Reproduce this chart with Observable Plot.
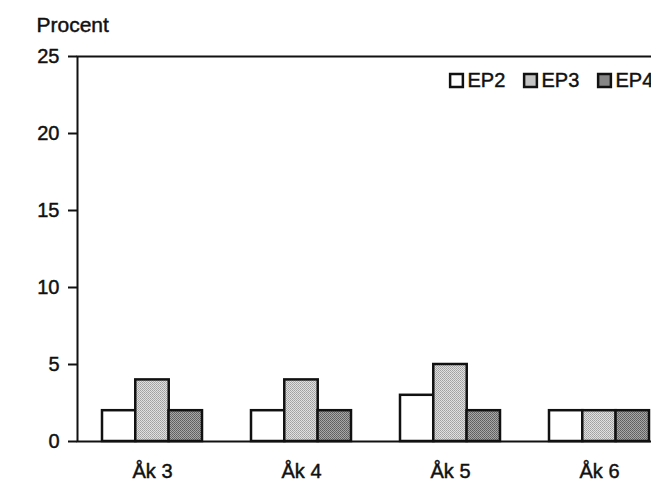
<!DOCTYPE html>
<html>
<head>
<meta charset="utf-8">
<script src="https://cdn.jsdelivr.net/npm/d3@7"></script>
<script src="https://cdn.jsdelivr.net/npm/@observablehq/plot@0.6"></script>
<style>
  html, body { margin: 0; padding: 0; background: #fff; }
  #chart svg text { stroke: #111; stroke-width: 0.45px; }
</style>
</head>
<body>
<div id="chart"></div>
<script>
const categories = ["Åk 3", "Åk 4", "Åk 5", "Åk 6"];
const series = ["EP2", "EP3", "EP4"];
const ep2 = [2, 2, 3, 2];
const ep3 = [4, 4, 5, 2];
const ep4 = [2, 2, 2, 2];
const yTicks = [0, 5, 10, 15, 20, 25];
const yLabel = "Procent";

const values = {EP2: ep2, EP3: ep3, EP4: ep4};

const fills = ["#ffffff", "url(#pat-ep3)", "url(#pat-ep4)"];
const ink = "#111";
const font = "'Liberation Sans', Arial, Helvetica, sans-serif";

const W = 651, H = 483;
const mL = 77, mR = -22, mT = 56, mB = 42;
const padIn = 0.33, padOut = 0.165;
const bw = d3.scaleBand(categories, [mL, W - mR]).paddingInner(padIn).paddingOuter(padOut).bandwidth();
const sub = bw / series.length;

const barMarks = series.map((s, i) => Plot.barY(
  categories.map((c, j) => ({cat: c, s, v: values[s][j]})),
  {x: "cat", y: "v", fill: fills[i], stroke: ink, strokeWidth: 2.5,
   insetLeft: i * sub, insetRight: (series.length - 1 - i) * sub}
));

const legendMarks = series.flatMap((s, i) => [
  Plot.dot([s], {frameAnchor: "top-left", dx: 379 + 74 * i, dy: 24,
    symbol: "square", r: 7.2, fill: fills[i], stroke: ink, strokeWidth: 2.5}),
  Plot.text([s], {frameAnchor: "top-left", dx: 390 + 74 * i, dy: 24,
    text: d => d, textAnchor: "start", lineAnchor: "middle", fill: ink, fontSize: 20})
]);

const chart = Plot.plot({
  width: W,
  height: H,
  marginTop: mT,
  marginBottom: mB,
  marginLeft: mL,
  marginRight: mR,
  style: {fontFamily: font, fontSize: "20px", color: ink, background: "#fff"},
  x: {domain: categories, paddingInner: padIn, paddingOuter: padOut, label: null, axis: null},
  y: {domain: [0, 25], axis: null},
  marks: [
    ...barMarks,
    Plot.frame({stroke: ink, strokeWidth: 2}),
    Plot.axisY({ticks: yTicks, tickSize: 9, tickPadding: 9, tickFormat: d => d,
      label: null, stroke: ink, strokeWidth: 2, fontSize: 20}),
    Plot.axisX({tickSize: 0, tickPadding: 22, label: null, fontSize: 20}),
    Plot.text([yLabel], {frameAnchor: "top-left", dx: -41, dy: -25,
      text: d => d, textAnchor: "start", lineAnchor: "bottom", fontSize: 21, fill: ink}),
    ...legendMarks
  ]
});

chart.insertAdjacentHTML("afterbegin", `
<defs>
  <pattern id="pat-ep3" width="2" height="2" patternUnits="userSpaceOnUse">
    <rect width="2" height="2" fill="#e0e0e0"/>
    <rect width="1" height="1" fill="#a0a0a0"/>
    <rect x="1" y="1" width="1" height="1" fill="#acacac"/>
  </pattern>
  <pattern id="pat-ep4" width="2" height="2" patternUnits="userSpaceOnUse">
    <rect width="2" height="2" fill="#a8a8a8"/>
    <rect width="1" height="1" fill="#5e5e5e"/>
    <rect x="1" y="1" width="1" height="1" fill="#686868"/>
  </pattern>
</defs>`);

document.getElementById("chart").appendChild(chart);
</script>
</body>
</html>
